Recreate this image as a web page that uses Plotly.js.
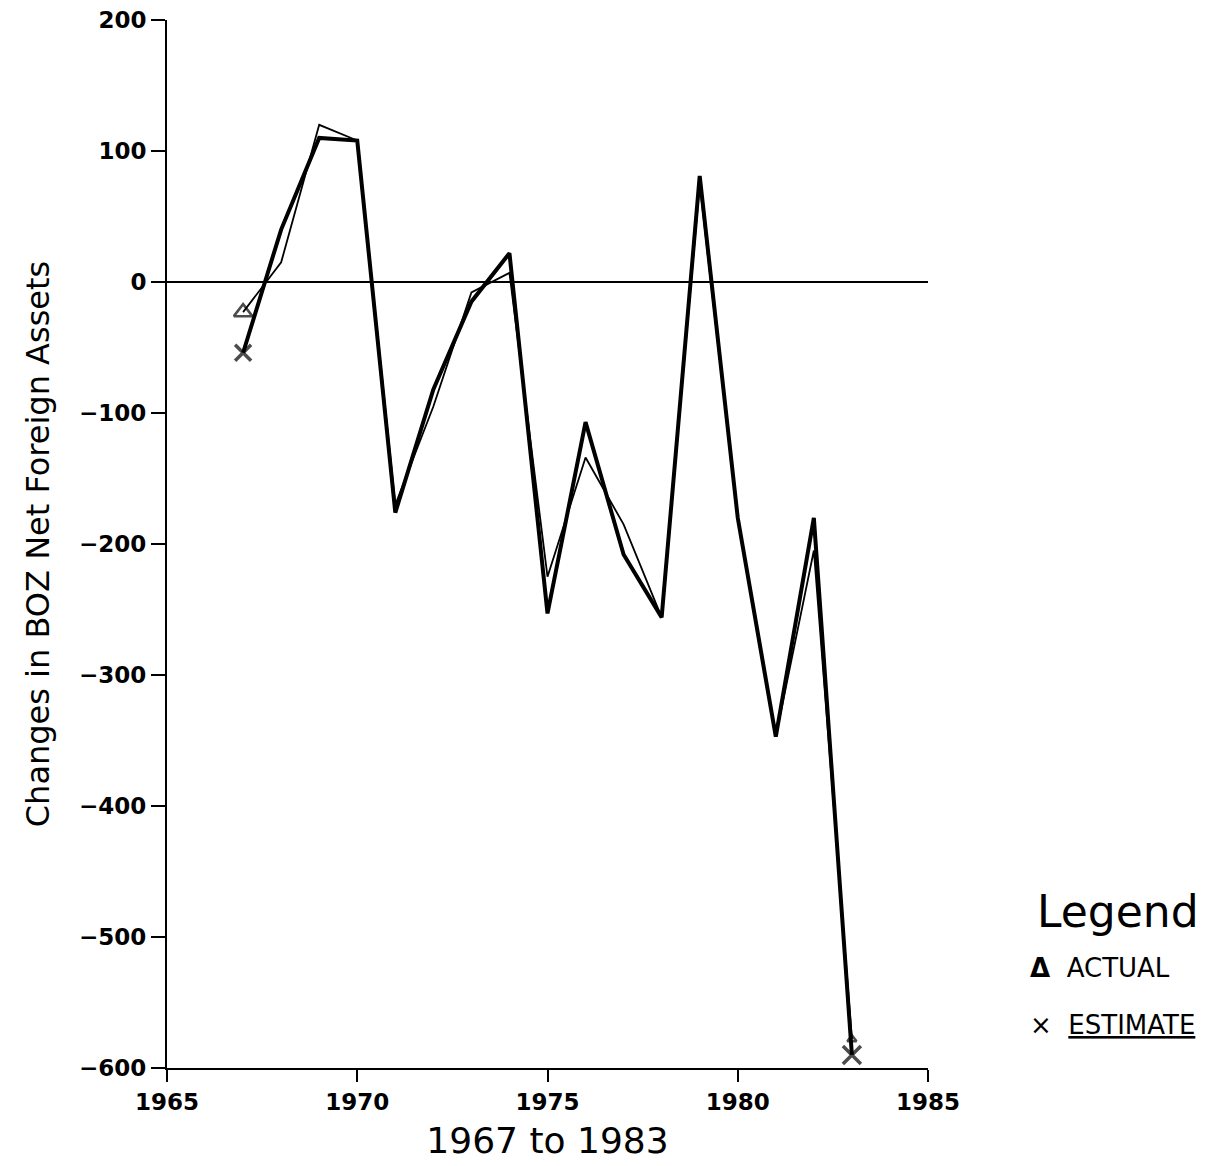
<!DOCTYPE html>
<html>
<head>
<meta charset="utf-8">
<script src="https://cdn.plot.ly/plotly-3.0.1.min.js"></script>
<style>html,body{margin:0;padding:0;background:#fff;}#chart{width:1228px;height:1166px;}</style>
</head>
<body>
<div id="chart"></div>
<script>
var years = [1967,1968,1969,1970,1971,1972,1973,1974,1975,1976,1977,1978,1979,1980,1981,1982,1983];
var actual   = [-23, 15, 120, 108, -170, -95, -8, 7, -225, -134, -185, -256, 75, -180, -347, -205, -578];
var estimate = [-54, 40, 110, 108, -176, -82, -15, 22, -253, -107, -208, -256, 81, -180, -347, -180, -590];
var actualMarkerSizes   = [16,0,0,0,0,0,0,0,0,0,0,0,0,0,0,0,8];
var estimateMarkerSizes = [16,0,0,0,0,0,0,0,0,0,0,0,0,0,0,0,18];
var yTicks = [-600,-500,-400,-300,-200,-100,0,100,200];
var xTicks = [1965,1970,1975,1980,1985];

var traces = [
  {x: years, y: actual, mode: 'lines+markers', name: 'ACTUAL',
   line: {color: '#000', width: 1.8},
   marker: {symbol: 'triangle-up-open', size: actualMarkerSizes, color: '#000', line: {width: 2.5, color: '#000'}}},
  {x: years, y: estimate, mode: 'lines+markers', name: 'ESTIMATE',
   line: {color: '#000', width: 4},
   marker: {symbol: 'x-thin-open', size: estimateMarkerSizes, color: '#000', line: {width: 3.5, color: '#000'}}}
];

var layout = {
  width: 1228, height: 1166,
  margin: {l: 167, r: 300, t: 20, b: 98},
  paper_bgcolor: '#fff', plot_bgcolor: '#fff',
  showlegend: false,
  font: {family: 'DejaVu Sans, sans-serif', color: '#000'},
  xaxis: {
    range: [1965, 1985], tickvals: xTicks, ticktext: xTicks.map(String),
    showgrid: false, zeroline: false, showline: true, linecolor: '#000', linewidth: 2,
    ticks: 'outside', ticklen: 12, tickwidth: 2, tickcolor: '#000',
    tickfont: {size: 23, family: 'DejaVu Sans, sans-serif', weight: 'bold'},
    title: {text: '1967 to 1983', font: {size: 36, family: 'DejaVu Sans, sans-serif'}, standoff: 14}
  },
  yaxis: {
    range: [-600, 200], tickvals: yTicks, ticktext: yTicks.map(function(v){return v<0 ? '\u2212'+Math.abs(v) : String(v);}),
    showgrid: false, zeroline: true, zerolinecolor: '#000', zerolinewidth: 2,
    showline: true, linecolor: '#000', linewidth: 2,
    ticks: 'outside', ticklen: 14, tickwidth: 2, tickcolor: '#000',
    tickfont: {size: 23, family: 'DejaVu Sans, sans-serif', weight: 'bold'},
    title: {text: 'Changes in BOZ Net Foreign Assets', font: {size: 32, family: 'DejaVu Sans, sans-serif'}, standoff: 20}
  },
  annotations: [
    {xref: 'paper', yref: 'paper', x: 1.25, y: 0.149, xanchor: 'center', yanchor: 'middle',
     text: 'Legend', showarrow: false, font: {size: 44, family: 'DejaVu Sans, sans-serif'}},
    {xref: 'paper', yref: 'paper', x: 1.132, y: 0.095, xanchor: 'left', yanchor: 'middle',
     text: '<b>\u0394</b>  ACTUAL', showarrow: false, font: {size: 26, family: 'DejaVu Sans, sans-serif'}},
    {xref: 'paper', yref: 'paper', x: 1.132, y: 0.041, xanchor: 'left', yanchor: 'middle',
     text: '\u00d7  <u>ESTIMATE</u>', showarrow: false, font: {size: 26, family: 'DejaVu Sans, sans-serif'}}
  ]
};

Plotly.newPlot('chart', traces, layout, {displayModeBar: false, staticPlot: true});
</script>
</body>
</html>
